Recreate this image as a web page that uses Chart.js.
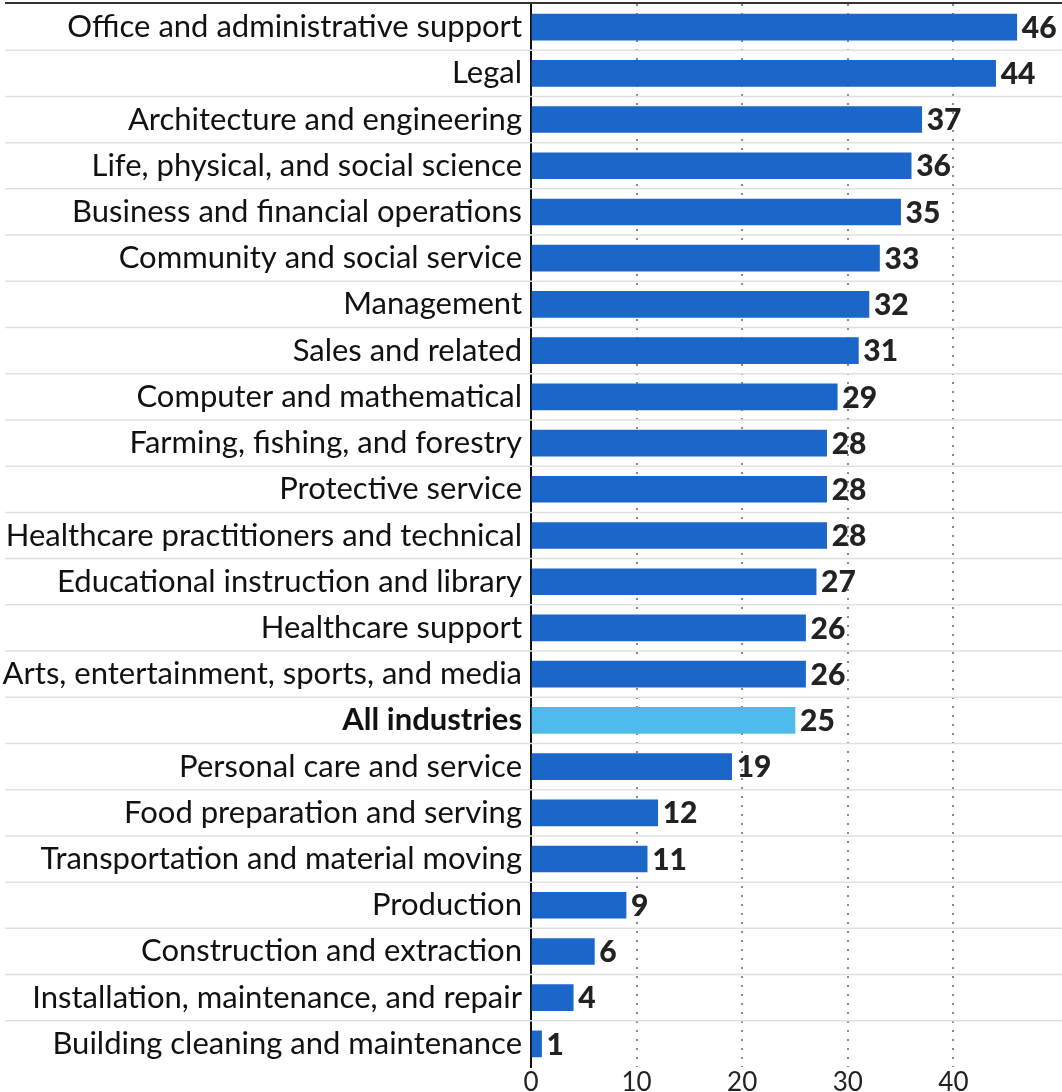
<!DOCTYPE html>
<html>
<head>
<meta charset="utf-8">
<script src="https://cdn.jsdelivr.net/npm/chart.js@4/dist/chart.umd.min.js"></script>
<style>
  html, body { margin: 0; padding: 0; background: #fff; }
  #wrap { width: 1062px; height: 1092px; position: relative; }
</style>
</head>
<body>
<div id="wrap"><canvas id="barChart"></canvas></div>
<script>
const categories = [
  'Office and administrative support', 'Legal', 'Architecture and engineering',
  'Life, physical, and social science', 'Business and financial operations',
  'Community and social service', 'Management', 'Sales and related',
  'Computer and mathematical', 'Farming, fishing, and forestry', 'Protective service',
  'Healthcare practitioners and technical', 'Educational instruction and library',
  'Healthcare support', 'Arts, entertainment, sports, and media', 'All industries',
  'Personal care and service', 'Food preparation and serving',
  'Transportation and material moving', 'Production', 'Construction and extraction',
  'Installation, maintenance, and repair', 'Building cleaning and maintenance'
];
const values = [46, 44, 37, 36, 35, 33, 32, 31, 29, 28, 28, 28, 27, 26, 26, 25, 19, 12, 11, 9, 6, 4, 1];
const highlight = 'All industries';
const xTicks = [0, 10, 20, 30, 40];

const FONT = "Lato, sans-serif";

// row separators across the whole width, plus the dark rule at the top
const rowLines = {
  id: 'rowLines',
  beforeDatasetsDraw(chart) {
    const ctx = chart.ctx, y = chart.scales.y, area = chart.chartArea;
    ctx.save();
    ctx.strokeStyle = '#e0e0e0';
    ctx.lineWidth = 1.5;
    for (let i = 0; i < categories.length - 1; i++) {
      const yy = (y.getPixelForValue(i) + y.getPixelForValue(i + 1)) / 2;
      ctx.beginPath();
      ctx.moveTo(5, yy);
      ctx.lineTo(chart.width, yy);
      ctx.stroke();
    }
    ctx.strokeStyle = '#333';
    ctx.lineWidth = 2;
    ctx.beginPath();
    ctx.moveTo(5, area.top - 1);
    ctx.lineTo(chart.width, area.top - 1);
    ctx.stroke();
    ctx.restore();
  }
};

// value labels at the end of each bar
const valueLabels = {
  id: 'valueLabels',
  afterDatasetsDraw(chart) {
    const ctx = chart.ctx;
    const meta = chart.getDatasetMeta(0);
    ctx.save();
    ctx.fillStyle = '#222';
    ctx.font = "900 30px " + FONT;
    ctx.textBaseline = 'middle';
    ctx.textAlign = 'left';
    meta.data.forEach((bar, i) => {
      ctx.fillText(values[i], bar.x + 5, bar.y + 1);
    });
    ctx.restore();
  }
};

new Chart(document.getElementById('barChart'), {
  type: 'bar',
  data: {
    labels: categories,
    datasets: [{
      data: values,
      backgroundColor: categories.map(c => c === highlight ? '#4fbbea' : '#1a66c9'),
      borderWidth: 0,
      barThickness: 26
    }]
  },
  options: {
    indexAxis: 'y',
    responsive: true,
    maintainAspectRatio: false,
    animation: false,
    layout: { padding: { top: 4, right: 3, left: 0, bottom: 0 } },
    plugins: { legend: { display: false }, tooltip: { enabled: false } },
    scales: {
      x: {
        min: 0,
        max: 50,
        afterBuildTicks: axis => { axis.ticks = xTicks.map(v => ({ value: v })); },
        afterFit: s => { s.height = 25; },
        grid: {
          color: ctx => ctx.tick && ctx.tick.value === 0 ? 'rgba(0,0,0,0)' : '#8a8a8a',
          lineWidth: 2,
          drawTicks: false
        },
        // in v4 the dash of the grid lines comes from border.dash
        border: { display: false, dash: [2, 7] },
        ticks: { color: '#222', font: { family: FONT, size: 26 }, padding: 0 }
      },
      y: {
        afterFit: s => { s.width = 531; s.paddingTop = 0; s.paddingBottom = 0; },
        grid: { display: false, drawTicks: false },
        border: { display: true, color: '#111', width: 2 },
        ticks: {
          color: '#111',
          padding: 9,
          font: ctx => ({
            family: FONT,
            size: 31,
            weight: categories[ctx.index] === highlight ? 'bold' : 'normal'
          })
        }
      }
    }
  },
  plugins: [rowLines, valueLabels]
});
</script>
</body>
</html>
